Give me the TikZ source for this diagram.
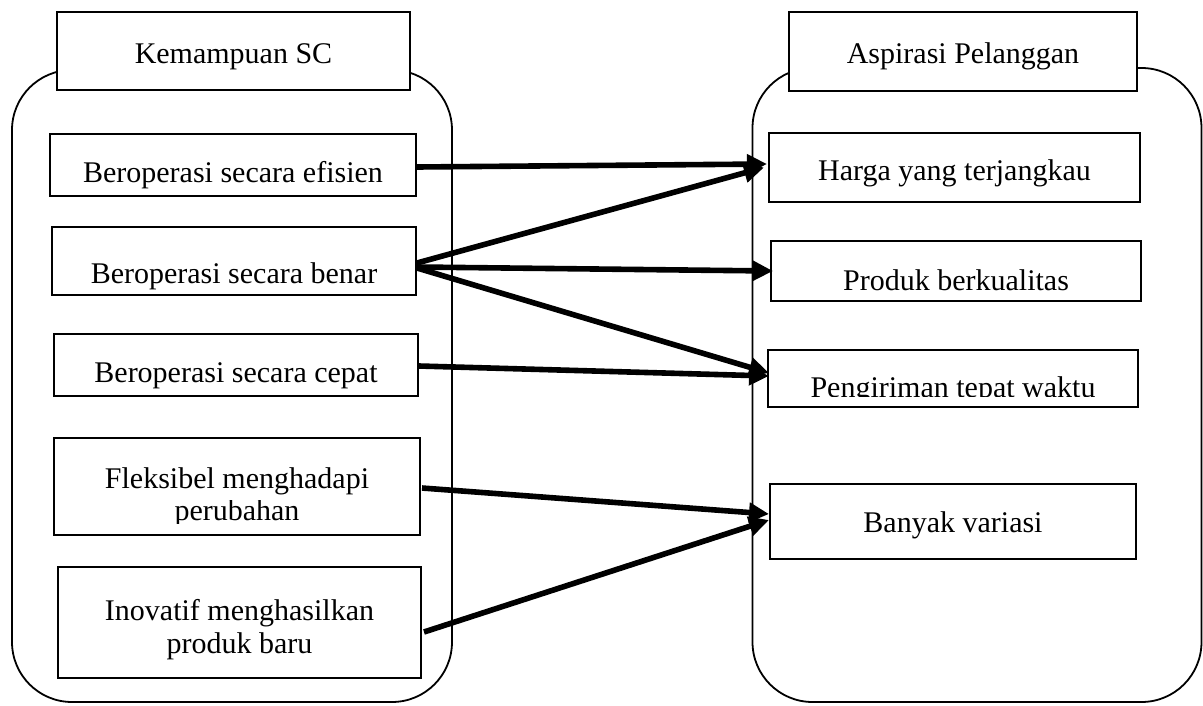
\documentclass[tikz,border=0pt]{standalone}
\usepackage{fontspec}
\setmainfont{Liberation Serif}
\usetikzlibrary{arrows.meta}
\begin{document}
\begin{tikzpicture}[x=1pt,y=-1pt,
  container/.style={draw, line width=1.8pt, rounded corners=60pt, inner sep=0pt},
  box/.style={draw, line width=2pt, fill=white, inner sep=0pt},
  txt/.style={anchor=base, inner sep=0pt, font=\fontsize{30}{33}\selectfont},
  arr/.style={line width=5.6pt, -{Triangle[length=20pt,width=19pt]}}]
\useasboundingbox (0,0) rectangle (1203,705);
% containers
\node[container, minimum width=440pt, minimum height=632pt] (C1) at (232,386) {};
\node[container, minimum width=449pt, minimum height=634pt] (C2) at (977,385) {};
% title boxes
\node[box, minimum width=353pt, minimum height=78pt] (T1) at (233.5,51) {};
\node[box, minimum width=348pt, minimum height=79pt] (T2) at (963,51.5) {};
\node[txt] (T1t) at (233.5,63) {Kemampuan SC};
\node[txt] (T2t) at (963,63) {Aspirasi Pelanggan};
% left boxes
\node[box, minimum width=366pt, minimum height=62pt] (L1) at (233,165) {};
\node[box, minimum width=364pt, minimum height=68pt] (L2) at (234,261) {};
\node[box, minimum width=364pt, minimum height=62pt] (L3) at (236,365) {};
\node[box, minimum width=366pt, minimum height=97pt] (L4) at (237,486.5) {};
\node[box, minimum width=363pt, minimum height=111pt] (L5) at (239.5,622.5) {};
\node[txt] (L1t) at (233,182) {Beroperasi secara efisien};
\node[txt] (L2t) at (234,283) {Beroperasi secara benar};
\node[txt] (L3t) at (236,382) {Beroperasi secara cepat};
\node[txt] (L4a) at (237,488) {Fleksibel menghadapi};
\begin{scope}
\clip (54,500) rectangle (420,523);
\node[txt] (L4b) at (237,520) {perubahan};
\end{scope}
\node[txt] (L5a) at (239.5,620) {Inovatif menghasilkan};
\node[txt] (L5b) at (239.5,653) {produk baru};
% right boxes
\node[box, minimum width=371pt, minimum height=69pt] (R1) at (954.5,167.5) {};
\node[box, minimum width=370pt, minimum height=60pt] (R2) at (956,271) {};
\node[box, minimum width=370pt, minimum height=57pt] (R3) at (953,378.5) {};
\node[box, minimum width=366pt, minimum height=75pt] (R4) at (953,521.5) {};
\node[txt] (R1t) at (954.5,180) {Harga yang terjangkau};
\node[txt] (R2t) at (956,290) {Produk berkualitas};
\begin{scope}
\clip (768,355) rectangle (1138,396.5);
\node[txt] (R3t) at (953,397) {Pengiriman tepat waktu};
\end{scope}
\node[txt] (R4t) at (953,532) {Banyak variasi};
% arrows
\draw[arr] ([yshift=-2pt]L1.east) -- ([xshift=-1pt,yshift=3.5pt]R1.west);
\draw[arr] ([yshift=-2pt]L2.east) -- ([xshift=-4pt,yshift=0pt]R1.west);
\draw[arr] ([yshift=-6pt]L2.east) -- ([xshift=3pt]R2.west);
\draw[arr] ([yshift=-7pt]L2.east) -- ([xshift=2pt,yshift=5.5pt]R3.west);
\draw[arr] ([yshift=-1pt]L3.east) -- ([xshift=2pt,yshift=2.5pt]R3.west);
\draw[arr] ([xshift=1pt,yshift=-1.5pt]L4.east) -- ([yshift=7.5pt]R4.west);
\draw[arr] ([xshift=2pt,yshift=-9.5pt]L5.east) -- ([yshift=1.5pt]R4.west);
\end{tikzpicture}
\end{document}
